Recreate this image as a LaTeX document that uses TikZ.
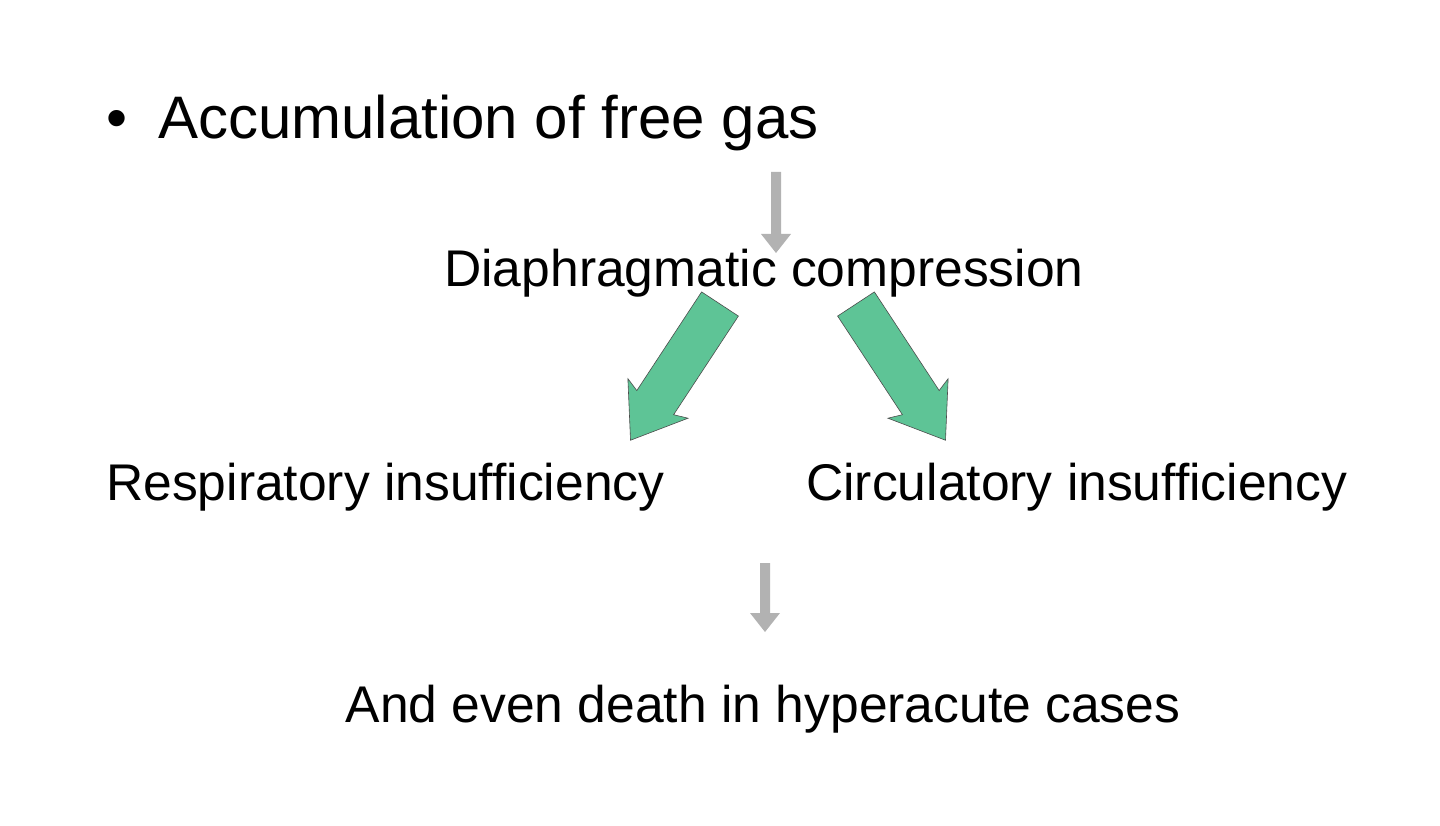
\documentclass[tikz,border=0pt]{standalone}
\usepackage{fontspec}
\setmainfont{Liberation Sans}
\definecolor{arrgreen}{RGB}{94,196,150}
\definecolor{arrgrey}{RGB}{178,178,178}
\begin{document}
\begin{tikzpicture}[x=1pt,y=-1pt,
  big/.style={inner sep=0,font=\fontsize{60}{70}\selectfont},
  txt/.style={inner sep=0,font=\fontsize{51.6}{60}\selectfont},
  greenarr/.style={draw=black!70,line width=0.6pt,fill=arrgreen,line join=miter},
  greyarr/.style={fill=arrgrey}]
\useasboundingbox (0,0) rectangle (1440,826);
\node[big,anchor=base] (bul) at (117,139) {•};
\node[big,anchor=base west] (acc) at (158,139) {Accumulation of free gas};
\node[txt,anchor=base] (dia) at (764,287) {Diaphragmatic compression};
\node[txt,anchor=base west] (res) at (106,500) {Respiratory insufficiency};
\node[txt,anchor=base west] (cir) at (806,500) {Circulatory insufficiency};
\node[txt,anchor=base] (dea) at (763,722) {And even death in hyperacute cases};
% grey arrows
\begin{scope}[shift={(776,172)},rotate=-90]
\fill[greyarr] (0,-5) -- (62,-5) -- (62,-15) -- (81,0) -- (62,15) -- (62,5) -- (0,5) -- cycle;
\end{scope}
\begin{scope}[shift={(765,563)},rotate=-90]
\fill[greyarr] (0,-5) -- (50,-5) -- (50,-15) -- (69,0) -- (50,15) -- (50,5) -- (0,5) -- cycle;
\end{scope}
% green arrows
\begin{scope}[shift={(720,304)},rotate=236.7]
\draw[greenarr] (0,-22) -- (118,-22) -- (113,-36) -- (163,0) -- (113,36) -- (118,22) -- (0,22) -- cycle;
\end{scope}
\begin{scope}[shift={(856,304)},rotate=303.3]
\draw[greenarr] (0,-22) -- (118,-22) -- (113,-36) -- (163,0) -- (113,36) -- (118,22) -- (0,22) -- cycle;
\end{scope}
\end{tikzpicture}
\end{document}
